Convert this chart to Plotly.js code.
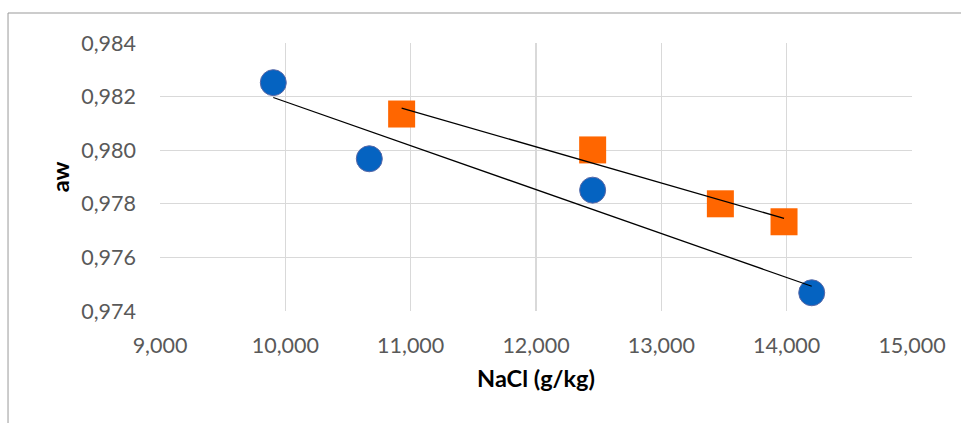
<!DOCTYPE html>
<html>
<head>
<meta charset="utf-8">
<script src="https://cdn.plot.ly/plotly-3.0.1.min.js"></script>
<style>html,body{margin:0;padding:0;background:#fff;}#chart{width:961px;height:423px;}</style>
</head>
<body>
<div id="chart"></div>
<script>
// Data
var blueNaCl = [9904, 10670, 12452, 14200];
var blueAw   = [0.98252, 0.97968, 0.97851, 0.97468];
var orangeNaCl = [10928, 12452, 13471, 13979];
var orangeAw   = [0.98135, 0.98001, 0.97800, 0.97733];
var xTickVals = [9000, 10000, 11000, 12000, 13000, 14000, 15000];
var xTickText = ['9,000', '10,000', '11,000', '12,000', '13,000', '14,000', '15,000'];
var yTickVals = [0.974, 0.976, 0.978, 0.980, 0.982, 0.984];
var yTickText = ['0,974', '0,976', '0,978', '0,980', '0,982', '0,984'];

// Linear trendline (least squares), as the spreadsheet does
function trend(xs, ys) {
  var n = xs.length, mx = 0, my = 0;
  for (var i = 0; i < n; i++) { mx += xs[i]; my += ys[i]; }
  mx /= n; my /= n;
  var sxy = 0, sxx = 0;
  for (var j = 0; j < n; j++) { sxy += (xs[j]-mx)*(ys[j]-my); sxx += (xs[j]-mx)*(xs[j]-mx); }
  var b = sxy / sxx, a = my - b*mx;
  var x0 = Math.min.apply(null, xs), x1 = Math.max.apply(null, xs);
  return {x: [x0, x1], y: [a + b*x0, a + b*x1]};
}
var tb = trend(blueNaCl, blueAw);
var to = trend(orangeNaCl, orangeAw);

var FONT = 'Lato, "Open Sans", sans-serif';

var traces = [
  {x: blueNaCl, y: blueAw, mode: 'markers', type: 'scatter', name: 'A',
   marker: {symbol: 'circle', size: 26, color: '#0563C1', line: {color: '#5867a6', width: 1}}},
  {x: orangeNaCl, y: orangeAw, mode: 'markers', type: 'scatter', name: 'B',
   marker: {symbol: 'square', size: 27, color: '#FF6600', line: {width: 0}}},
  {x: tb.x, y: tb.y, mode: 'lines', type: 'scatter', line: {color: '#000', width: 1.3}},
  {x: to.x, y: to.y, mode: 'lines', type: 'scatter', line: {color: '#000', width: 1.3}}
];

var layout = {
  width: 961, height: 423,
  margin: {l: 160, r: 49, t: 43, b: 112},
  paper_bgcolor: '#fff', plot_bgcolor: '#fff',
  showlegend: false,
  font: {family: FONT, size: 21, color: '#595959'},
  xaxis: {
    range: [9000, 15000], tickvals: xTickVals, ticktext: xTickText,
    showgrid: true, gridcolor: '#d9d9d9', gridwidth: 1.3, zeroline: false, showline: false,
    ticks: '', ticklabelstandoff: 19,
    tickfont: {family: FONT, size: 21.5, color: '#595959'},
    title: {text: 'NaCl (g/kg)', font: {family: FONT, size: 23.5, color: '#000', weight: 'bold'}, standoff: 14}
  },
  yaxis: {
    range: [0.974, 0.984], tickvals: yTickVals, ticktext: yTickText,
    showgrid: true, gridcolor: '#d9d9d9', gridwidth: 1.3, zeroline: false, showline: false,
    ticks: '', ticklabelstandoff: 23,
    tickfont: {family: FONT, size: 21.5, color: '#595959'},
    title: {text: 'aw', font: {family: FONT, size: 23.5, color: '#000', weight: 'bold'}, standoff: 5}
  },
  shapes: [
    {type: 'line', xref: 'paper', yref: 'paper', x0: -0.2021, x1: 1.07, y0: 1.1119, y1: 1.1119,
     line: {color: '#999', width: 1}},
    {type: 'line', xref: 'paper', yref: 'paper', x0: -0.2021, x1: -0.2021, y0: 1.1119, y1: -0.43,
     line: {color: '#999', width: 1}}
  ]
};

Plotly.newPlot('chart', traces, layout, {displayModeBar: false, staticPlot: true});
</script>
</body>
</html>
